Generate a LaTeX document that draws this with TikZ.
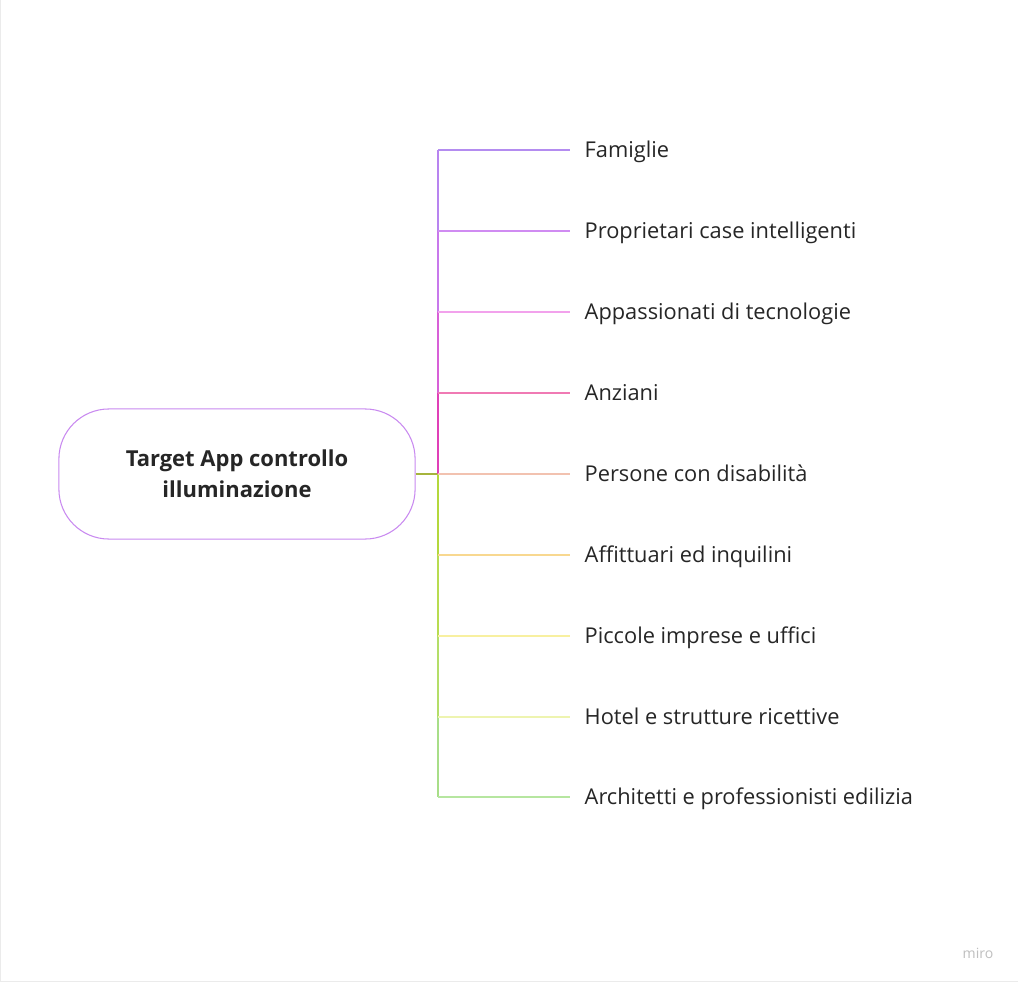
\documentclass[tikz,border=0pt]{standalone}
\usepackage{fontspec}
\setmainfont{Open Sans}
\usepackage{xcolor}
\usepackage{tikz}
\usetikzlibrary{positioning}

\definecolor{rootline}{HTML}{C98AF0}
\definecolor{stem}{HTML}{A6B43C}
\definecolor{cFam}{HTML}{B48CF0}
\definecolor{cProp}{HTML}{D08CF2}
\definecolor{cApp}{HTML}{F2A2EC}
\definecolor{cAnz}{HTML}{F07AB4}
\definecolor{cPers}{HTML}{F2C2B0}
\definecolor{cAff}{HTML}{F8D890}
\definecolor{cPic}{HTML}{F8F0A0}
\definecolor{cHot}{HTML}{EEF4B0}
\definecolor{cArc}{HTML}{B6E6A0}
\definecolor{tUpA}{HTML}{B884F0}
\definecolor{tUpB}{HTML}{C878EC}
\definecolor{tUpC}{HTML}{D860D8}
\definecolor{tUpD}{HTML}{E040B8}
\definecolor{tLoA}{HTML}{B4D83C}
\definecolor{tLoB}{HTML}{B8DC50}
\definecolor{tLoC}{HTML}{B4DE68}
\definecolor{tLoD}{HTML}{A8DE88}

\tikzset{
  root/.style={draw=rootline,line width=0.3pt,rounded corners=0.5cm,minimum width=3.56cm,minimum height=1.3cm,align=center,font=\fontsize{6.25}{8.8}\selectfont\bfseries,text=black!85},
  leaf/.style={anchor=west,inner xsep=0.14cm,inner ysep=0pt,text height=4.8pt,text depth=1.5pt,yshift=-0.6pt,font=\fontsize{6.2}{7.2}\selectfont,text=black!85},
  twig/.style={line width=0.35pt},
}

\begin{document}
\begin{tikzpicture}[x=0.01cm,y=-0.01cm]
    \fill[white] (0,0) rectangle (1018,982);
    \useasboundingbox (0,0) rectangle (1018,982);
    \draw[black!8,line width=0.4pt] (0.5,0) -- (0.5,981.5) -- (1018,981.5);

    \node[root] (target) at (237,474) {Target App controllo\\illuminazione};

    % trunk
    \coordinate (t1) at (438,150);
    \coordinate (t2) at (438,231);
    \coordinate (t3) at (438,312);
    \coordinate (t4) at (438,393);
    \coordinate (t5) at (438,474);
    \coordinate (t6) at (438,555);
    \coordinate (t7) at (438,636);
    \coordinate (t8) at (438,717);
    \coordinate (t9) at (438,797);

    \node[leaf] (famiglie) at (570,150) {Famiglie};
    \node[leaf] (proprietari) at (570,231) {Proprietari case intelligenti};
    \node[leaf] (appassionati) at (570,312) {Appassionati di tecnologie};
    \node[leaf] (anziani) at (570,393) {Anziani};
    \node[leaf] (disabili) at (570,474) {Persone con disabilità};
    \node[leaf] (affittuari) at (570,555) {Affittuari ed inquilini};
    \node[leaf] (imprese) at (570,636) {Piccole imprese e uffici};
    \node[leaf] (hotel) at (570,717) {Hotel e strutture ricettive};
    \node[leaf] (architetti) at (570,797) {Architetti e professionisti edilizia};

    \draw[twig,stem,line width=0.6pt] (target.east) -- (t5);

    \draw[twig,tUpA] (t1) -- (t2);
    \draw[twig,tUpB] (t2) -- (t3);
    \draw[twig,tUpC] (t3) -- (t4);
    \draw[twig,tUpD] (t4) -- (t5);
    \draw[twig,tLoA] (t5) -- (t6);
    \draw[twig,tLoB] (t6) -- (t7);
    \draw[twig,tLoC] (t7) -- (t8);
    \draw[twig,tLoD] (t8) -- (t9);

    \draw[twig,cFam] (t1) -- (t1 -| famiglie.west);
    \draw[twig,cProp] (t2) -- (t2 -| proprietari.west);
    \draw[twig,cApp] (t3) -- (t3 -| appassionati.west);
    \draw[twig,cAnz] (t4) -- (t4 -| anziani.west);
    \draw[twig,cPers] (t5) -- (t5 -| disabili.west);
    \draw[twig,cAff] (t6) -- (t6 -| affittuari.west);
    \draw[twig,cPic] (t7) -- (t7 -| imprese.west);
    \draw[twig,cHot] (t8) -- (t8 -| hotel.west);
    \draw[twig,cArc] (t9) -- (t9 -| architetti.west);

    \node[text=black!25,font=\fontsize{4}{5}\selectfont] (miro) at (978,953) {miro};
\end{tikzpicture}
\end{document}
